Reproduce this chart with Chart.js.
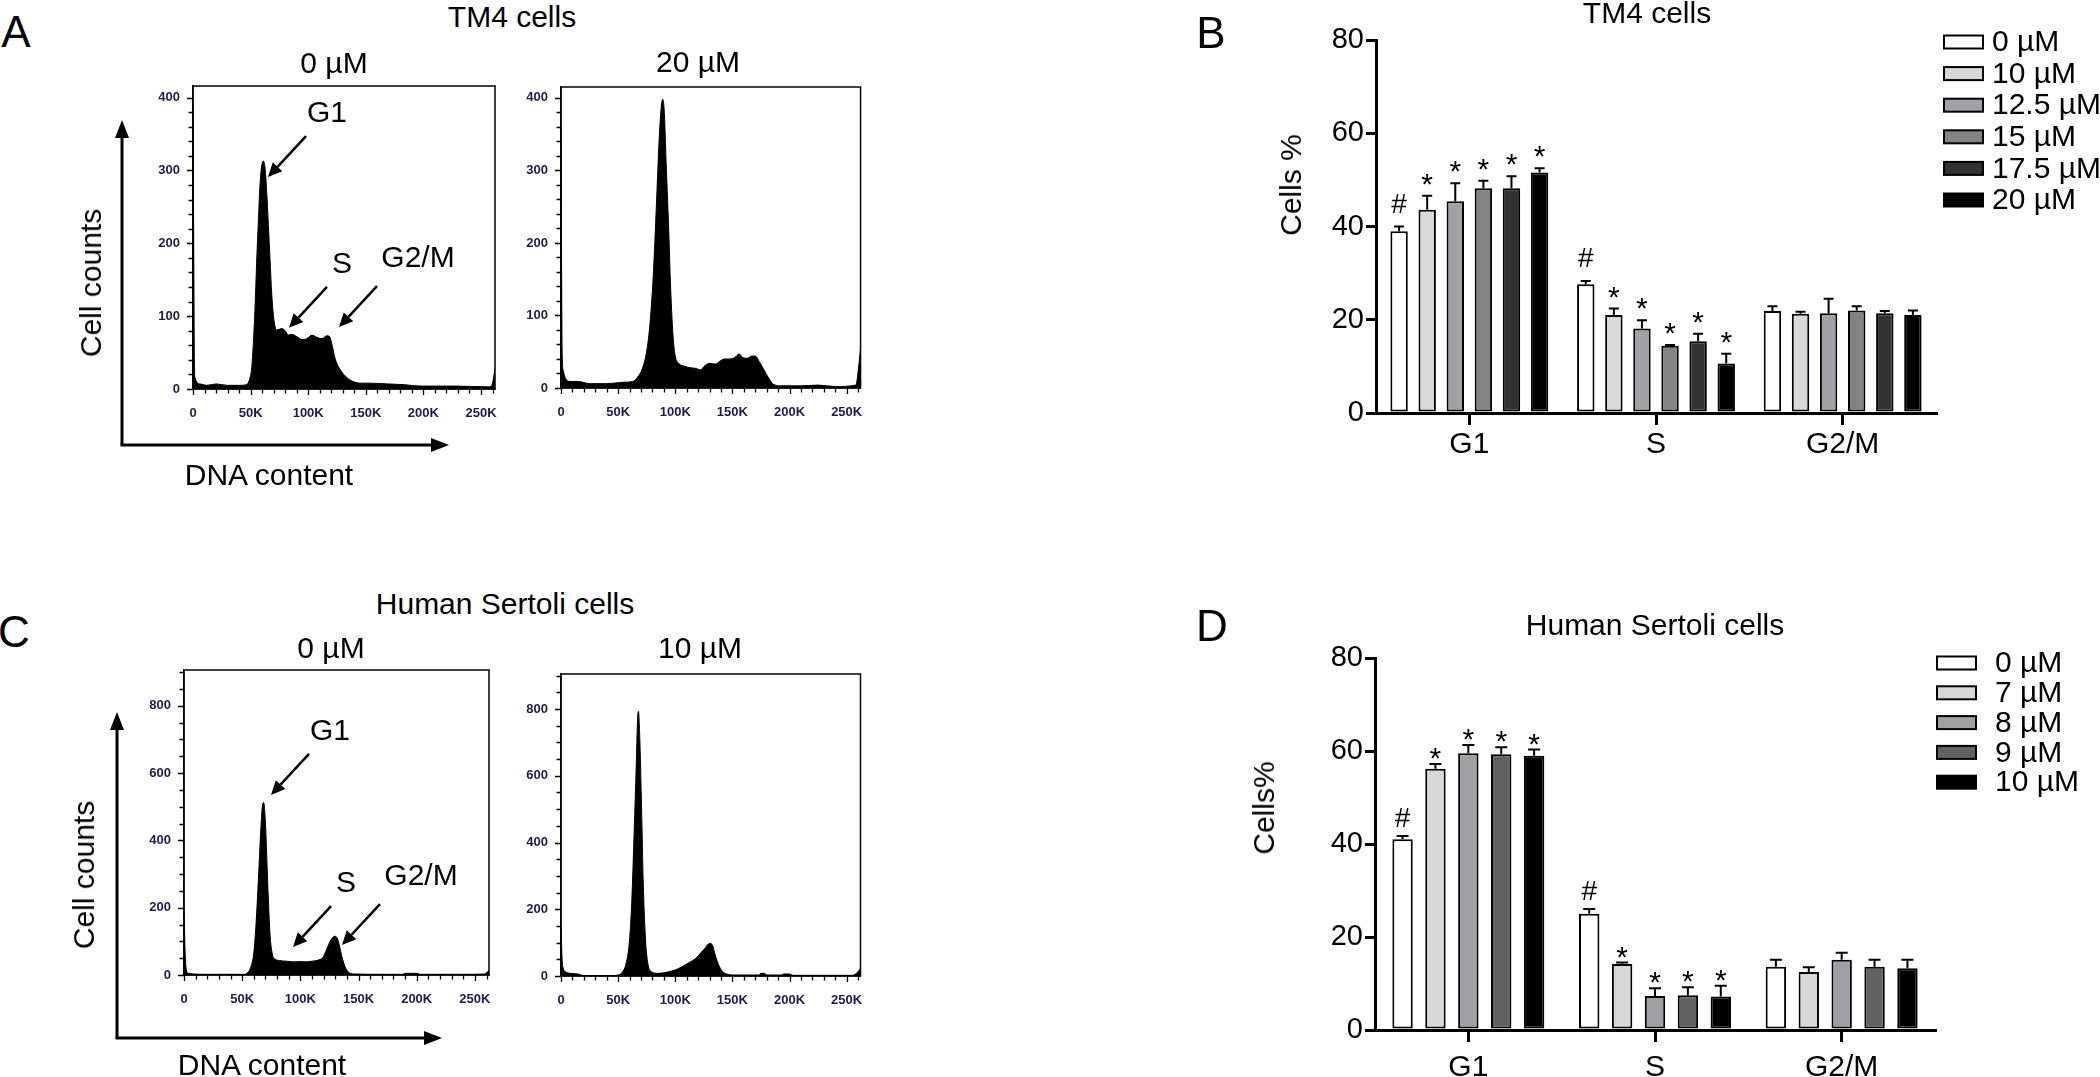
<!DOCTYPE html>
<html>
<head>
<meta charset="utf-8">
<script src="https://cdn.jsdelivr.net/npm/chart.js@4.4.1/dist/chart.umd.min.js"></script>
<style>
  body { margin: 0; width: 2100px; height: 1077px; background: #fff; position: relative; overflow: hidden;
         font-family: "Liberation Sans", Arial, sans-serif; color: #000; }
  canvas { position: absolute; }
  .t { position: absolute; font-size: 30px; line-height: 1; white-space: nowrap; transform: translate(-50%, -50%); }
  .rot { transform: translate(-50%, -50%) rotate(-90deg); }
  .big { font-size: 44px; }
</style>
</head>
<body>
<canvas id="tm4Ctrl"></canvas>
<canvas id="tm4Treat"></canvas>
<canvas id="hsCtrl"></canvas>
<canvas id="hsTreat"></canvas>
<canvas id="tm4Bars"></canvas>
<canvas id="hsBars"></canvas>

<div class="t big" style="left:16px;top:32px">A</div>
<div class="t big" style="left:1211px;top:33px">B</div>
<div class="t big" style="left:14px;top:632px">C</div>
<div class="t big" style="left:1212px;top:626px">D</div>
<div class="t" style="left:512px;top:17px">TM4 cells</div>
<div class="t" style="left:1647px;top:13px">TM4 cells</div>
<div class="t" style="left:505px;top:604px">Human Sertoli cells</div>
<div class="t" style="left:1655px;top:625px">Human Sertoli cells</div>
<div class="t" style="left:334px;top:63px">0 µM</div>
<div class="t" style="left:698px;top:62px">20 µM</div>
<div class="t" style="left:331px;top:648px">0 µM</div>
<div class="t" style="left:700px;top:648px">10 µM</div>
<div class="t rot" style="left:91px;top:283px">Cell counts</div>
<div class="t rot" style="left:84px;top:875px">Cell counts</div>
<div class="t" style="left:269px;top:475px">DNA content</div>
<div class="t" style="left:262px;top:1065px">DNA content</div>
<div class="t rot" style="left:1291px;top:185px">Cells %</div>
<div class="t rot" style="left:1264px;top:808px">Cells%</div>

<script>
Chart.defaults.font.family = '"Liberation Sans", Arial, sans-serif';
Chart.defaults.color = '#000';

// ---- flow histograms: DNA content (K) / cell counts ----
const tm4CtrlX = [0, 1.5, 6, 12, 20, 30, 40, 46.5, 49.4, 51, 52.3, 53.8, 55.2, 56.7, 58.1, 59.6, 61, 62.5, 64, 65.4, 66.9, 68.3, 69.8, 71.2, 72.7, 77, 80, 82.8, 85.8, 90, 94.5, 98.8, 103, 107.6, 112, 116, 118.6, 120.6, 123.5, 128, 132, 138, 145, 154, 169, 183, 198, 227, 256, 259, 262, 263];
const tm4CtrlY = [390, 17, 7, 5, 7, 5, 5, 6, 15, 30, 61, 110, 172, 230, 279, 306, 313, 304, 270, 226, 177, 132, 101, 86, 81, 83, 80, 74, 75, 72, 68, 69, 74, 71, 69, 73, 72, 61, 41, 26, 18, 11, 8, 8, 7, 6, 4, 4, 3, 4, 26, 37];
const tm4TreatX = [0, 1, 2, 4, 8, 15, 25, 40, 55, 63, 67, 71, 75, 78, 81, 84, 86, 88, 89, 90.5, 92, 94, 96, 98, 100, 103, 108, 113, 118, 122, 126, 130, 135, 139, 143, 148, 152, 156, 159, 163, 167, 170, 174, 178, 182, 186, 192, 210, 225, 240, 258, 261, 263];
const tm4TreatY = [360, 51, 24, 13, 9, 9, 6, 6, 8, 9, 15, 26, 51, 91, 163, 272, 346, 392, 398, 378, 311, 230, 136, 73, 44, 34, 30, 28, 27, 25, 31, 34, 33, 37, 40, 40, 42, 47, 42, 41, 44, 44, 35, 24, 13, 5, 3, 3, 4, 2, 4, 37, 69];
const hsCtrlX = [0, 1, 2, 4, 8, 20, 52, 54, 57, 60, 62, 64, 66, 67.5, 68.5, 70, 72, 74, 76, 78, 82, 88, 95, 100, 105, 110, 115, 119, 122, 125, 128, 130, 132, 134, 136, 139, 142, 147, 170, 188, 190, 200, 203, 240, 258, 261, 263];
const hsCtrlY = [190, 66, 15, 5, 3, 2, 2, 5, 20, 66, 157, 289, 431, 505, 512, 452, 269, 117, 61, 48, 43, 41, 39, 40, 39, 41, 44, 51, 71, 96, 112, 115, 107, 81, 51, 20, 7, 3, 2, 2, 5, 5, 2, 2, 3, 10, 15];
const hsTreatX = [0, 1, 2, 4, 8, 15, 20, 45, 50, 54, 57, 60, 62, 64, 66, 67, 67.8, 69, 70.5, 72, 74, 76, 79, 85, 92, 100, 106, 112, 118, 122, 126, 129, 131, 133, 135, 138, 141, 145, 150, 173, 175, 178, 180, 193, 195, 200, 203, 205, 255, 260, 263];
const hsTreatY = [150, 48, 23, 13, 8, 6, 1, 1, 3, 13, 38, 108, 228, 428, 648, 768, 793, 708, 508, 278, 108, 38, 13, 8, 11, 18, 28, 40, 53, 68, 83, 96, 98, 88, 63, 33, 15, 6, 3, 3, 8, 8, 3, 3, 6, 6, 2, 2, 2, 13, 28];

const dnaTicks = [0, 50, 100, 150, 200, 250];
const dnaTickLabels = ['0', '50K', '100K', '150K', '200K', '250K'];
const tm4CountTicks = [0, 100, 200, 300, 400];
const hsCountTicks = [0, 200, 400, 600, 800];

// arrows pointing at the phases (tip in data units)
const noteLabels = ['G1', 'S', 'G2/M'];
const tm4NoteX = [65.1, 83.3, 126.7];
const tm4NoteY = [291, 84, 85];
const hsNoteX = [74.8, 93.7, 135.8];
const hsNoteY = [535, 83, 89];

// ---- bar charts: % of cells per phase ----
const phases = ['G1', 'S', 'G2/M'];
const tm4Doses = ['0 µM', '10 µM', '12.5 µM', '15 µM', '17.5 µM', '20 µM'];
const tm4Colors = ['#ffffff', '#d9d9d9', '#a2a2a6', '#838383', '#323232', '#000000'];
const tm4Means = [[39.0, 27.6, 21.9], [43.6, 21.0, 21.3], [45.4, 18.1, 21.4], [48.2, 14.4, 22.0], [48.2, 15.4, 21.4], [51.6, 10.6, 21.0]];
const tm4Errs = [[1.0, 0.7, 1.0], [3.0, 1.4, 0.4], [3.9, 1.8, 3.1], [1.6, 0.2, 0.9], [2.6, 1.6, 0.5], [0.9, 2.1, 1.0]];
const tm4Marks = [['#', '#', ''], ['*', '*', ''], ['*', '*', ''], ['*', '*', ''], ['*', '*', ''], ['*', '*', '']];

const hsDoses = ['0 µM', '7 µM', '8 µM', '9 µM', '10 µM'];
const hsColors = ['#ffffff', '#d8d8d8', '#a0a0a4', '#626262', '#000000'];
const hsMeans = [[41.0, 25.0, 13.6], [56.2, 14.2, 12.5], [59.5, 7.3, 15.1], [59.3, 7.5, 13.6], [59.0, 7.2, 13.3]];
const hsErrs = [[0.7, 1.0, 1.5], [1.0, 0.3, 1.0], [1.8, 1.7, 1.5], [1.5, 1.7, 1.5], [1.3, 2.3, 1.8]];
const hsMarks = [['#', '#', ''], ['*', '*', ''], ['*', '*', ''], ['*', '*', ''], ['*', '*', '']];

const FONT = '"Liberation Sans", Arial, sans-serif';

function place(id, box) {
  const cv = document.getElementById(id);
  cv.width = box[2];
  cv.height = box[3];
  cv.style.left = box[0] + 'px';
  cv.style.top = box[1] + 'px';
  return cv;
}

function arrow(ctx, x1, y1, x2, y2, w, head, half) {
  const ang = Math.atan2(y2 - y1, x2 - x1);
  const bx = x2 - head * Math.cos(ang), by = y2 - head * Math.sin(ang);
  ctx.lineWidth = w;
  ctx.beginPath(); ctx.moveTo(x1, y1); ctx.lineTo(bx, by); ctx.stroke();
  ctx.beginPath();
  ctx.moveTo(x2, y2);
  ctx.lineTo(bx + half * Math.sin(ang), by - half * Math.cos(ang));
  ctx.lineTo(bx - half * Math.sin(ang), by + half * Math.cos(ang));
  ctx.closePath(); ctx.fill();
}

// box frame, minor ticks, phase arrows and the big axis arrows
const flowFrame = {
  id: 'flowFrame',
  afterDraw(chart, args, o) {
    const ctx = chart.ctx, a = chart.chartArea, x = chart.scales.x, y = chart.scales.y;
    ctx.save();
    ctx.strokeStyle = '#000'; ctx.fillStyle = '#000';
    ctx.lineWidth = 1.5;
    ctx.strokeRect(a.left, a.top, a.right - a.left, a.bottom - a.top);
    ctx.lineWidth = 1.3;
    ctx.beginPath();
    for (let v = 0; v <= x.max; v += 10) {
      const px = Math.round(x.getPixelForValue(v)) + 0.5;
      ctx.moveTo(px, a.bottom); ctx.lineTo(px, a.bottom + (v % 50 === 0 ? 6 : 4.5));
    }
    for (let v = 0; v <= y.max; v += o.yMinor) {
      const py = Math.round(y.getPixelForValue(v)) + 0.5;
      ctx.moveTo(a.left, py); ctx.lineTo(a.left - (v % o.yMajor === 0 ? 6 : 4.5), py);
    }
    ctx.stroke();
    if (o.noteX) {
      ctx.font = '30px ' + FONT; ctx.textAlign = 'center'; ctx.textBaseline = 'middle';
      const dx = [59, 53, 79], dy = [-63, -63, -68];
      noteLabels.forEach((lab, i) => {
        const tx = x.getPixelForValue(o.noteX[i]), ty = y.getPixelForValue(o.noteY[i]);
        arrow(ctx, tx + 38, ty - 41, tx, ty, 2.5, 14, 6.5);
        ctx.fillText(lab, tx + dx[i], ty + dy[i]);
      });
    }
    if (o.axes) {
      const g = o.axes;
      arrow(ctx, g.x, g.y, g.x, g.top, 3, 18, 7);
      arrow(ctx, g.x - 1.5, g.y, g.right, g.y, 3, 18, 7);
    }
    ctx.restore();
  }
};

function histogram(id, box, area, xs, ys, yMax, yTicks, yMinor, yMajor, noteX, noteY, axes) {
  const cv = place(id, box);
  const pts = xs.map((v, i) => ({ x: v, y: ys[i] }));
  let ax = null;
  if (axes) ax = { x: axes[0] - box[0], y: axes[1] - box[1], top: axes[2] - box[1], right: axes[3] - box[0] };
  return new Chart(cv, {
    type: 'line',
    data: { datasets: [{ data: pts, borderColor: '#000', backgroundColor: '#000', borderWidth: 1,
      pointRadius: 0, fill: 'origin', cubicInterpolationMode: 'monotone' }] },
    options: {
      responsive: false, animation: false, events: [],
      layout: { padding: { left: 0, bottom: 0, top: area[1] - box[1], right: box[0] + box[2] - area[2] } },
      plugins: { legend: { display: false }, tooltip: { enabled: false },
        flowFrame: { yMinor: yMinor, yMajor: yMajor, noteX: noteX, noteY: noteY, axes: ax } },
      scales: {
        x: { type: 'linear', min: 0, max: 262.144,
          afterBuildTicks: s => { s.ticks = dnaTicks.map(v => ({ value: v })); },
          afterFit: s => { s.height = box[1] + box[3] - area[3]; },
          ticks: { autoSkip: false, maxRotation: 0, padding: 17, color: '#1c1c50',
            font: { size: 13, weight: 'bold' }, callback: v => dnaTickLabels[dnaTicks.indexOf(v)] },
          grid: { display: false, drawTicks: false }, border: { color: '#000', width: 1.5 } },
        y: { min: 0, max: yMax,
          afterBuildTicks: s => { s.ticks = yTicks.map(v => ({ value: v })); },
          afterFit: s => { s.width = area[0] - box[0]; },
          ticks: { padding: 13, color: '#1c1c50', font: { size: 13, weight: 'bold' } },
          grid: { display: false, drawTicks: false }, border: { color: '#000', width: 1.5 } }
      }
    },
    plugins: [flowFrame]
  });
}

// error bars, # / * marks and the legend for the bar charts
const barExtras = {
  id: 'barExtras',
  afterDraw(chart, args, o) {
    const ctx = chart.ctx, y = chart.scales.y;
    ctx.save();
    ctx.strokeStyle = '#000'; ctx.fillStyle = '#000'; ctx.lineWidth = 2;
    ctx.textAlign = 'center'; ctx.textBaseline = 'alphabetic';
    chart.data.datasets.forEach((ds, i) => {
      chart.getDatasetMeta(i).data.forEach((bar, j) => {
        const top = y.getPixelForValue(ds.data[j] + ds.err[j]);
        ctx.beginPath();
        ctx.moveTo(bar.x, bar.y); ctx.lineTo(bar.x, top);
        ctx.moveTo(bar.x - o.cap, top); ctx.lineTo(bar.x + o.cap, top);
        ctx.stroke();
        const m = ds.marks[j];
        if (m === '#') { ctx.font = '28px ' + FONT; ctx.fillText(m, bar.x, top - o.hashLift); }
        if (m === '*') { ctx.font = '30px ' + FONT; ctx.fillText(m, bar.x, top - o.starLift); }
      });
    });
    ctx.font = '30px ' + FONT; ctx.textAlign = 'left'; ctx.textBaseline = 'middle';
    chart.data.datasets.forEach((ds, i) => {
      const cy = o.legY + i * o.legStep;
      ctx.fillStyle = ds.backgroundColor;
      ctx.fillRect(o.legX, cy - 6.5, 39, 13);
      ctx.strokeRect(o.legX, cy - 6.5, 39, 13);
      ctx.fillStyle = '#000';
      ctx.fillText(ds.label, o.legTextX, cy + 1);
    });
    ctx.restore();
  }
};

function barChart(id, box, area, doses, colors, means, errs, marks, cp, xPad, extras) {
  const cv = place(id, box);
  extras.legX -= box[0]; extras.legTextX -= box[0]; extras.legY -= box[1];
  return new Chart(cv, {
    type: 'bar',
    data: {
      labels: phases,
      datasets: doses.map((d, i) => ({
        label: d, data: means[i], err: errs[i], marks: marks[i],
        backgroundColor: colors[i], borderColor: '#000', borderWidth: 2, borderSkipped: false,
        categoryPercentage: cp, barPercentage: 0.62
      }))
    },
    options: {
      responsive: false, animation: false, events: [],
      layout: { padding: { left: 0, bottom: 0, top: area[1] - box[1], right: box[0] + box[2] - area[2] } },
      plugins: { legend: { display: false }, tooltip: { enabled: false }, barExtras: extras },
      scales: {
        x: { offset: true,
          afterFit: s => { s.height = box[1] + box[3] - area[3]; },
          grid: { offset: false, drawOnChartArea: false, color: '#000', lineWidth: 3, tickLength: 12 },
          border: { color: '#000', width: 3 },
          ticks: { color: '#000', font: { size: 30 }, padding: xPad } },
        y: { min: 0, max: 80,
          afterFit: s => { s.width = area[0] - box[0]; },
          grid: { drawOnChartArea: false, color: '#000', lineWidth: 3, tickLength: 10 },
          border: { color: '#000', width: 3 },
          ticks: { stepSize: 20, color: '#000', font: { size: 29 }, padding: 2 } }
      }
    },
    plugins: [barExtras]
  });
}

histogram('tm4Ctrl', [60, 60, 480, 430], [193, 86, 495, 389], tm4CtrlX, tm4CtrlY, 416, tm4CountTicks, 20, 100,
  tm4NoteX, tm4NoteY, [122, 445, 120, 449]);
histogram('tm4Treat', [500, 60, 380, 430], [561, 87, 863, 388], tm4TreatX, tm4TreatY, 415, tm4CountTicks, 20, 100);
histogram('hsCtrl', [60, 640, 480, 437], [184, 670, 489, 975], hsCtrlX, hsCtrlY, 906, hsCountTicks, 50, 200,
  hsNoteX, hsNoteY, [117, 1038, 712, 442]);
histogram('hsTreat', [500, 640, 380, 437], [561, 674, 862, 976], hsTreatX, hsTreatY, 905, hsCountTicks, 50, 200);

barChart('tm4Bars', [1180, 0, 920, 500], [1376, 40, 1936, 413], tm4Doses, tm4Colors, tm4Means, tm4Errs, tm4Marks, 0.903, 2,
  { cap: 5, hashLift: 14, starLift: 2, legX: 1944, legTextX: 1992, legY: 42, legStep: 31.6 });
barChart('hsBars', [1180, 560, 920, 517], [1375, 658, 1935, 1030], hsDoses, hsColors, hsMeans, hsErrs, hsMarks, 0.881, 8,
  { cap: 6, hashLift: 9, starLift: -4, legX: 1937, legTextX: 1995, legY: 663, legStep: 29.8 });
</script>
</body>
</html>
